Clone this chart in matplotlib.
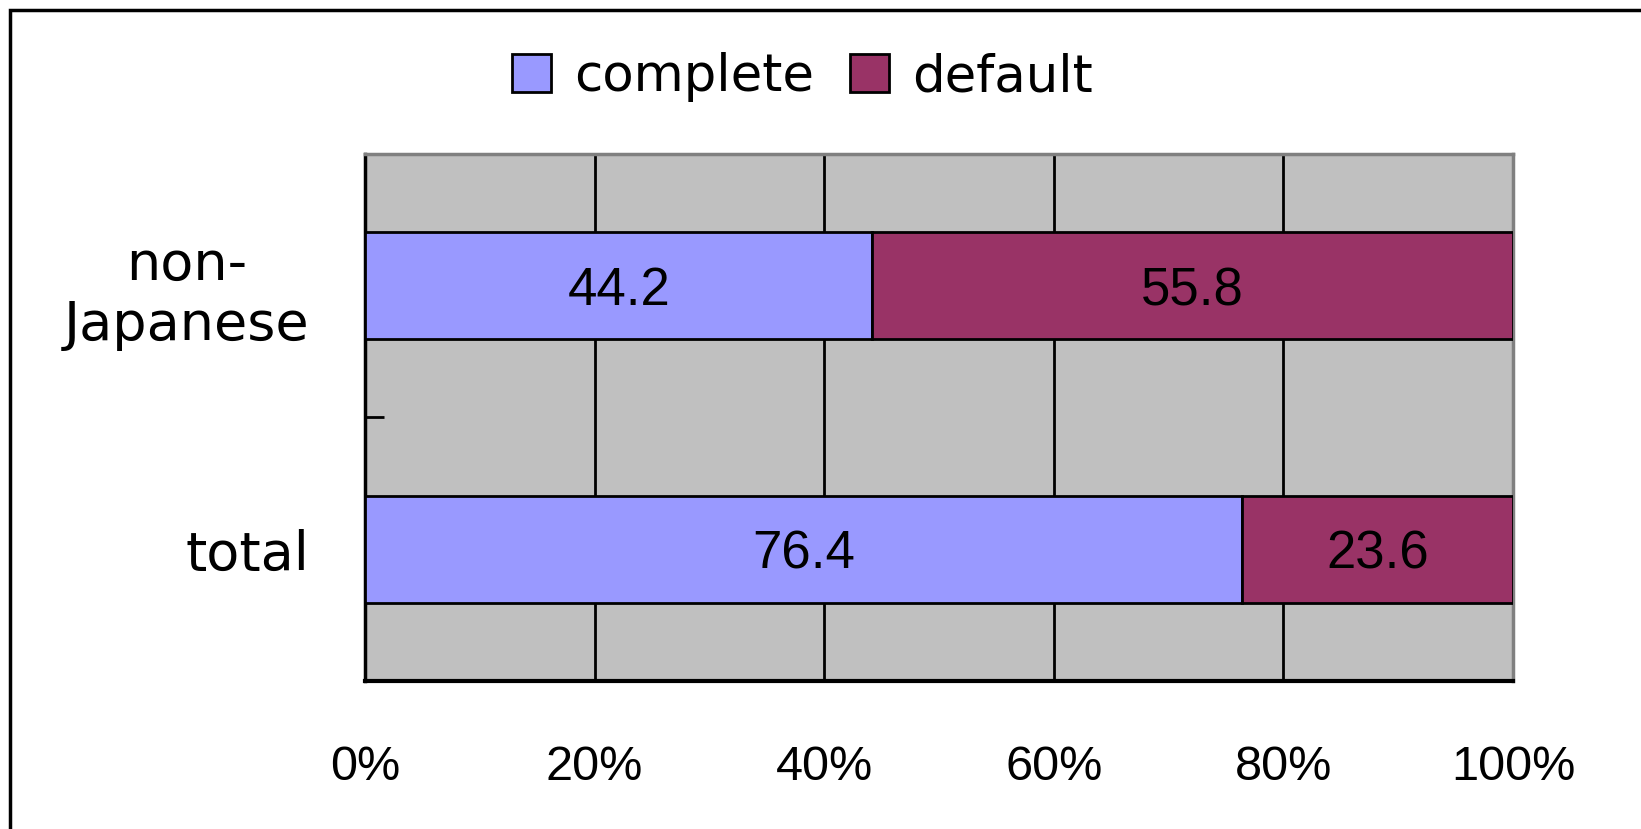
import matplotlib
matplotlib.use("Agg")
import matplotlib.pyplot as plt
from matplotlib.patches import Rectangle, Patch

categories = ["total", "non-\nJapanese"]
complete = [76.4, 44.2]
default = [23.6, 55.8]
series_names = ["complete", "default"]
xtick_values = [0, 20, 40, 60, 80, 100]
xtick_labels = ["0%", "20%", "40%", "60%", "80%", "100%"]

c_complete = "#9999FF"
c_default = "#993366"

fig = plt.figure(figsize=(16.41, 8.291), dpi=100)
ax = fig.add_axes([365/1641, 1-681/829, (1513-365)/1641, (681-154)/829])
ax.set_facecolor("#C0C0C0")

ypos = list(range(len(categories)))
h = 0.405
b1 = ax.barh(ypos, complete, height=h, color=c_complete, edgecolor="black", linewidth=2, zorder=3)
b2 = ax.barh(ypos, default, left=complete, height=h, color=c_default, edgecolor="black", linewidth=2, zorder=3)

for vals, lefts in ((complete, [0]*len(complete)), (default, complete)):
    for y, v, l in zip(ypos, vals, lefts):
        ax.text(l + v/2, y, f"{v:.1f}", ha="center", va="center_baseline",
                fontsize=38, family="Liberation Sans", color="black", zorder=4)

ax.set_xlim(0, 100)
ax.set_ylim(-0.5, len(categories) - 0.5)

ax.set_xticks(xtick_values)
ax.set_xticklabels(xtick_labels, fontsize=35, family="Liberation Sans")
ax.tick_params(axis="x", length=0, pad=46)
ax.grid(axis="x", color="black", linewidth=2, zorder=1)
ax.set_axisbelow(True)

ax.set_yticks([-0.5, 0.5, 1.5])
ax.set_yticklabels([])
ax.tick_params(axis="y", which="major", direction="in", length=14, width=2, color="black")
ax.set_yticks(ypos, minor=True)
ax.set_yticklabels(categories, minor=True, fontsize=39, family="DejaVu Sans",
                   multialignment="center")
ax.tick_params(axis="y", which="minor", length=0, pad=40)

ax.spines["left"].set_color("black")
ax.spines["left"].set_linewidth(2.5)
ax.spines["bottom"].set_color("black")
ax.spines["bottom"].set_linewidth(3)
ax.spines["top"].set_color("#808080")
ax.spines["top"].set_linewidth(2.5)
ax.spines["right"].set_color("#808080")
ax.spines["right"].set_linewidth(2.5)

handles = [Patch(facecolor=c_complete, edgecolor="black", linewidth=2),
           Patch(facecolor=c_default, edgecolor="black", linewidth=2)]
fig.legend(handles, series_names, loc="center", bbox_to_anchor=(0.489, 1-77/829),
           ncol=2, frameon=False, prop={"family": "DejaVu Sans", "size": 37},
           handlelength=0.75, handleheight=0.75, handletextpad=0.45,
           columnspacing=0.7, borderpad=0)

frame = Rectangle((10/1641, -0.1), 1.2, 1.1 - 10/829, transform=fig.transFigure,
                  fill=False, edgecolor="black", linewidth=2.5)
fig.patches.append(frame)

fig.savefig("out.png", dpi=100)
